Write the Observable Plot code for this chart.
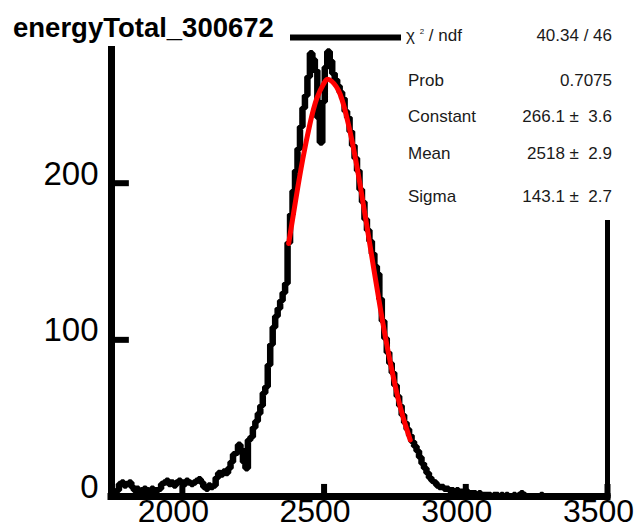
<!DOCTYPE html>
<html>
<head>
<meta charset="utf-8">
<script src="https://cdn.jsdelivr.net/npm/d3@7"></script>
<script src="https://cdn.jsdelivr.net/npm/@observablehq/plot@0.6"></script>
<style>
  html, body { margin: 0; padding: 0; background: white; }
  #wrap { position: relative; width: 639px; height: 528px; overflow: hidden; font-family: "Liberation Sans", Arial, Helvetica, sans-serif; }
  #title { position: absolute; left: 0; top: 0; width: 290px; height: 46px; background: white; }
  #title span { position: absolute; left: 13px; top: 14px; font-size: 27.5px; line-height: 27.5px; font-weight: bold; color: black; white-space: nowrap; }
  #stats { position: absolute; left: 401px; top: 0; width: 238px; height: 220px; background: white; }
  .row { position: absolute; left: 0; width: 211px; font-size: 17px; line-height: 17px; color: #1a1a1a; white-space: pre; }
  .row .lab { position: absolute; left: 7px; }
  .row .val { position: absolute; right: 0; }
  sup.s { font-size: 8px; vertical-align: 7px; line-height: 0; }
</style>
</head>
<body>
<div id="wrap">
  <div id="chart"></div>
  <div id="title"><span id="titleText"></span></div>
  <div id="stats"></div>
</div>
<script>
// ---- data ----
const titleText = "energyTotal_300672";
const xMin = 1750, xMax = 3500, nBins = 200;
const xTicks = [2000, 2500, 3000, 3500];
const yTicks = [0, 100, 200];
const counts = [
  3, 2, 4, 8, 9, 7, 8, 9, 6, 4,
  5, 3, 4, 5, 4, 3, 5, 4, 4, 5,
  8, 9, 10, 8, 9, 7, 9, 10, 9, 8,
  10, 9, 8, 9, 10, 11, 9, 6, 5, 7,
  6, 7, 12, 15, 14, 16, 15, 18, 22, 27,
  28, 33, 30, 22, 18, 36, 38, 44, 48, 53,
  58, 66, 70, 84, 97, 108, 115, 120, 125, 130,
  136, 162, 180, 195, 208, 222, 236, 248, 256, 268,
  283, 279, 272, 242, 226, 252, 274, 284, 278, 270,
  266, 262, 258, 254, 246, 242, 233, 224, 216, 208,
  196, 188, 177, 170, 163, 155, 147, 142, 126, 112,
  101, 92, 85, 79, 71, 64, 58, 52, 47, 43,
  39, 35, 32, 29, 25, 21, 18, 15, 12, 10,
  9, 7, 6, 6, 5, 5, 4, 4, 3, 4,
  3, 3, 2, 3, 2, 2, 2, 1, 2, 1,
  1, 1, 1, 0, 1, 1, 0, 1, 0, 1,
  0, 0, 1, 0, 1, 2, 1, 0, 0, 0,
  0, 0, 0, 1, 0, 0, 0, 0, 0, 0,
  0, 0, 0, 0, 0, 0, 0, 0, 0, 0,
  0, 0, 0, 0, 0, 0, 0, 0, 0, 0
];
// Gaussian fit curve
const fitX = [2375, 2400, 2425, 2450, 2475, 2500, 2518, 2550, 2575, 2600, 2625, 2650, 2675, 2700, 2725, 2750, 2775, 2804];
const fitY = [161.5, 189.4, 215.5, 237.7, 254.4, 264.0, 266.1, 259.5, 245.8, 225.8, 201.2, 173.9, 145.8, 118.5, 93.5, 71.5, 53.0, 36.1];
// stats box
const statLabels = ["χ2 / ndf", "Prob", "Constant", "Mean", "Sigma"];
const statValues = ["40.34 / 46", "0.7075", "266.1 ±  3.6", "2518 ±  2.9", "143.1 ±  2.7"];

// ---- build ----
const binW = (xMax - xMin) / nBins;
const hist = counts.map((c, i) => ({x: xMin + i * binW, y: c}));
hist.push({x: xMax, y: counts[counts.length - 1]});
const fit = fitX.map((x, i) => ({x, y: fitY[i]}));
const fmt = d => String(d);

const chart = Plot.plot({
  width: 639,
  height: 528,
  marginLeft: 111,
  marginRight: 32,
  marginTop: 37,
  marginBottom: 32,
  x: {domain: [xMin, xMax], label: null},
  y: {domain: [0, 293], label: null},
  style: {fontFamily: "'Liberation Sans', Arial, sans-serif", background: "white", color: "black"},
  marks: [
    Plot.axisX(xTicks, {tickSize: 0, tickPadding: 3, fontSize: 32, dx: -9, fill: "black", tickFormat: fmt, label: null}),
    Plot.axisY(yTicks, {tickSize: 0, tickPadding: 13, fontSize: 33, dy: -9, fill: "black", tickFormat: fmt, label: null}),
    Plot.line(hist, {x: "x", y: "y", curve: "step-after", stroke: "black", strokeWidth: 6.5, strokeLinejoin: "miter"}),
    Plot.line(fit, {x: "x", y: "y", curve: "natural", stroke: "#ff0000", strokeWidth: 5}),
    Plot.ruleX(xTicks, {y1: 0, y2: 7.7, stroke: "black", strokeWidth: 6}),
    Plot.ruleY(yTicks, {x1: xMin, x2: xMin + 63, stroke: "black", strokeWidth: 6}),
    Plot.ruleX([xMin], {stroke: "black", strokeWidth: 7, strokeLinecap: "square"}),
    Plot.ruleX([xMax], {stroke: "black", strokeWidth: 5, strokeLinecap: "square"}),
    Plot.ruleY([0], {stroke: "black", strokeWidth: 7, strokeLinecap: "square"}),
    Plot.ruleY([293], {stroke: "black", strokeWidth: 6, strokeLinecap: "square"})
  ]
});
document.getElementById("chart").appendChild(chart);

document.getElementById("titleText").textContent = titleText;
const rowTops = [27, 72, 108, 145, 188];
const stats = document.getElementById("stats");
statLabels.forEach((lab, i) => {
  const row = document.createElement("div");
  row.className = "row";
  row.style.top = rowTops[i] + "px";
  const l = document.createElement("span");
  l.className = "lab";
  if (i === 0) {
    l.innerHTML = "χ <sup class='s'>2</sup> / ndf";
    l.style.left = "5px";
  } else {
    l.textContent = lab;
  }
  const v = document.createElement("span");
  v.className = "val";
  v.textContent = statValues[i];
  row.appendChild(l);
  row.appendChild(v);
  stats.appendChild(row);
});
</script>
</body>
</html>
